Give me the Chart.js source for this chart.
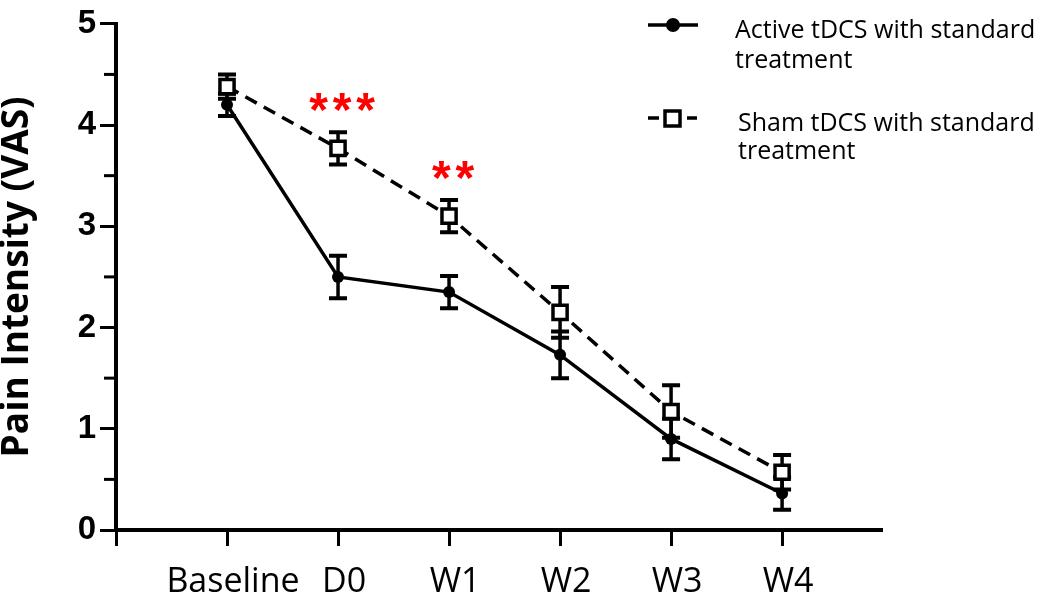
<!DOCTYPE html>
<html>
<head>
<meta charset="utf-8">
<script src="https://cdn.jsdelivr.net/npm/chart.js@4"></script>
<style>
  html, body { margin: 0; padding: 0; background: #fff; }
</style>
</head>
<body>
<canvas id="myChart" width="1050" height="595"></canvas>
<script>
// time points
const categories = ['Baseline', 'D0', 'W1', 'W2', 'W3', 'W4'];
const timeX = [1, 2, 3, 4, 5, 6];

// pain intensity (VAS), mean and error
const activeMean = [4.2, 2.5, 2.35, 1.73, 0.9, 0.36];
const activeErr = [0.11, 0.21, 0.16, 0.23, 0.2, 0.16];
const shamMean = [4.38, 3.77, 3.1, 2.15, 1.17, 0.57];
const shamErr = [0.12, 0.16, 0.16, 0.25, 0.26, 0.17];

// significance marks above the sham points
const sigMarks = ['', '***', '**', '', '', ''];

const activeLabel = ['Active tDCS with standard', 'treatment'];
const shamLabel = ['Sham tDCS with standard', 'treatment'];

const errs = [activeErr, shamErr];
const means = [activeMean, shamMean];

const errorBars = {
  id: 'errorBars',
  beforeDatasetsDraw(chart) {
    const c = chart.ctx, xs = chart.scales.x, ys = chart.scales.y;
    c.save();
    c.strokeStyle = '#000';
    for (let d = 0; d < 2; d++) {
      means[d].forEach((m, i) => {
        const x = xs.getPixelForValue(timeX[i]);
        const y1 = ys.getPixelForValue(m + errs[d][i]);
        const y2 = ys.getPixelForValue(m - errs[d][i]);
        c.lineWidth = 3.5;
        c.beginPath();
        c.moveTo(x, y1); c.lineTo(x, y2);
        c.stroke();
        c.lineWidth = 4;
        c.beginPath();
        c.moveTo(x - 9, y1); c.lineTo(x + 9, y1);
        c.moveTo(x - 9, y2); c.lineTo(x + 9, y2);
        c.stroke();
      });
    }
    c.restore();
  },
  afterDatasetsDraw(chart) {
    const c = chart.ctx, xs = chart.scales.x, ys = chart.scales.y;
    c.save();
    c.fillStyle = '#ff0000';
    c.font = 'bold 48px "Liberation Sans"';
    c.textAlign = 'center';
    c.textBaseline = 'alphabetic';
    sigMarks.forEach((s, i) => {
      if (!s) return;
      const x = xs.getPixelForValue(timeX[i]) + 4;
      const y = ys.getPixelForValue(shamMean[i] + shamErr[i]) - 6;
      const n = s.length;
      for (let k = 0; k < n; k++) {
        c.fillText('*', x + (k - (n - 1) / 2) * 23.5, y);
      }
    });
    c.restore();
  },
  afterDraw(chart) {
    const c = chart.ctx, ys = chart.scales.y, left = chart.chartArea.left;
    c.save();
    // minor ticks
    c.strokeStyle = '#000';
    c.lineWidth = 3;
    ys.ticks.forEach(t => {
      if (Number.isInteger(t.value)) return;
      const y = ys.getPixelForValue(t.value);
      c.beginPath();
      c.moveTo(left - 12, y); c.lineTo(left, y);
      c.stroke();
    });
    // legend
    c.lineWidth = 3.5;
    c.beginPath();
    c.moveTo(648, 25); c.lineTo(698, 25);
    c.stroke();
    c.fillStyle = '#000';
    c.beginPath();
    c.arc(673, 25, 7, 0, Math.PI * 2);
    c.fill();

    c.beginPath();
    c.moveTo(648, 118); c.lineTo(659, 118);
    c.moveTo(687, 118); c.lineTo(697, 118);
    c.stroke();
    c.fillStyle = '#fff';
    c.lineWidth = 3.5;
    c.beginPath();
    c.rect(665, 111, 15, 15);
    c.fill();
    c.stroke();

    c.fillStyle = '#000';
    c.font = '25px "Open Sans"';
    c.textAlign = 'left';
    c.textBaseline = 'alphabetic';
    c.fillText(activeLabel[0], 735, 38);
    c.fillText(activeLabel[1], 735, 68);
    c.fillText(shamLabel[0], 738, 131);
    c.fillText(shamLabel[1], 738, 159);
    c.restore();
  }
};

const ctx = document.getElementById('myChart');

new Chart(ctx, {
  type: 'line',
  data: {
    datasets: [
      {
        label: activeLabel.join(' '),
        data: timeX.map((x, i) => ({ x: x, y: activeMean[i] })),
        borderColor: '#000',
        backgroundColor: '#000',
        borderWidth: 3.5,
        pointStyle: 'circle',
        pointRadius: 6,
        pointBorderWidth: 0,
        pointBackgroundColor: '#000'
      },
      {
        label: shamLabel.join(' '),
        data: timeX.map((x, i) => ({ x: x, y: shamMean[i] })),
        borderColor: '#000',
        borderWidth: 3.5,
        borderDash: [13, 8],
        pointStyle: 'rect',
        pointRadius: 10,
        pointBorderWidth: 3.5,
        pointBorderColor: '#000',
        pointBackgroundColor: '#fff'
      }
    ]
  },
  options: {
    responsive: false,
    animation: false,
    layout: { padding: { top: 14, right: 168, left: 0, bottom: 0 } },
    plugins: {
      legend: { display: false },
      tooltip: { enabled: false }
    },
    scales: {
      x: {
        type: 'linear',
        min: 0,
        max: 6.9,
        afterBuildTicks: s => { s.ticks = [0].concat(timeX).map(v => ({ value: v })); },
        afterFit: s => { s.height = 65; },
        ticks: {
          autoSkip: false,
          maxRotation: 0,
          labelOffset: 6,
          padding: 16,
          color: '#000',
          font: { family: 'Open Sans', size: 34 },
          callback: (v, i) => (i === 0 ? '' : categories[i - 1])
        },
        grid: { drawOnChartArea: false, tickLength: 16, tickWidth: 3, tickColor: '#000' },
        border: { color: '#000', width: 4 }
      },
      y: {
        min: 0,
        max: 5,
        afterFit: s => { s.width = 116; },
        ticks: {
          stepSize: 0.5,
          padding: 4,
          color: '#000',
          font: { family: 'Liberation Sans', size: 33, weight: 'bold' },
          callback: v => (Number.isInteger(v) ? v : '')
        },
        grid: {
          drawOnChartArea: false,
          tickLength: 16,
          tickWidth: 3,
          tickColor: c => (Number.isInteger(c.tick.value) ? '#000' : 'rgba(0,0,0,0)')
        },
        border: { color: '#000', width: 4 },
        title: {
          display: true,
          text: 'Pain Intensity (VAS)',
          color: '#000',
          padding: { top: -1, bottom: 0 },
          font: { family: 'Open Sans', size: 37, weight: 'bold', lineHeight: 1 }
        }
      }
    }
  },
  plugins: [errorBars]
});
</script>
</body>
</html>
